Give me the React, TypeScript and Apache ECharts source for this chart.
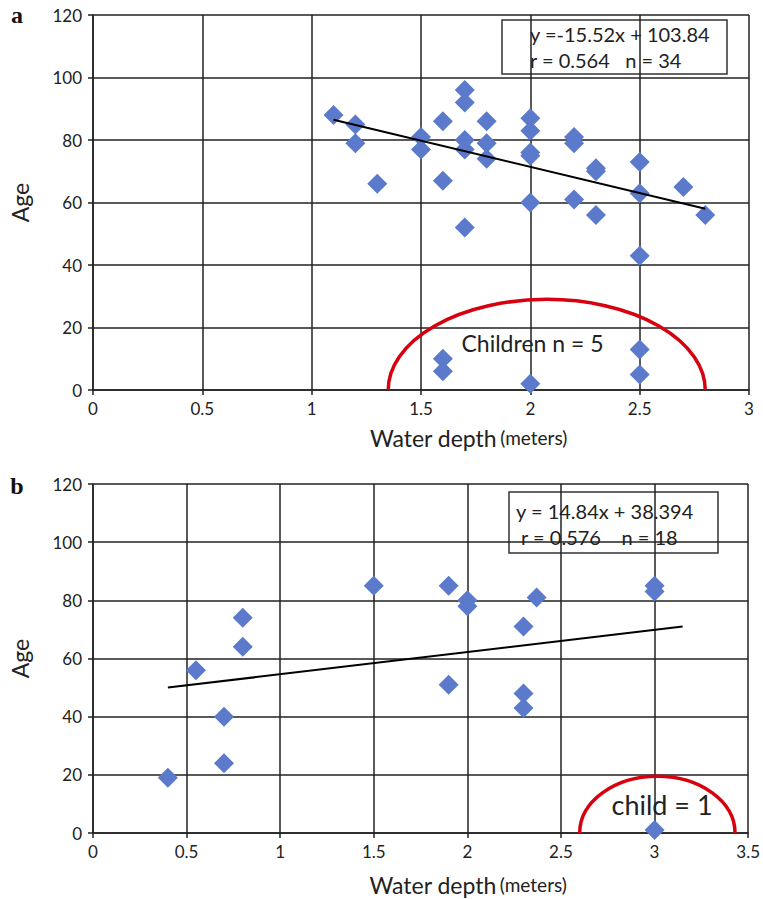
import React, { useEffect, useRef } from "react";
import * as echarts from "echarts";

// Panel a: water depth (m) vs age
const adultsA: [number, number][] = [
  [1.1, 88], [1.2, 85], [1.2, 79], [1.3, 66], [1.5, 81], [1.5, 77],
  [1.6, 86], [1.6, 67], [1.7, 96], [1.7, 92], [1.7, 80], [1.7, 77], [1.7, 52],
  [1.8, 86], [1.8, 79], [1.8, 74], [2.0, 87], [2.0, 83], [2.0, 76], [2.0, 75], [2.0, 60],
  [2.2, 81], [2.2, 79], [2.2, 61], [2.3, 71], [2.3, 70], [2.3, 56],
  [2.5, 73], [2.5, 63], [2.5, 43], [2.7, 65], [2.8, 56],
];
const childrenA: [number, number][] = [
  [1.6, 10], [1.6, 6], [2.0, 2], [2.5, 13], [2.5, 5],
];
const fitA: [number, number][] = [[1.1, 86.5], [2.8, 58]];
const arcA = [1.35, 2.8, 29]; // x start, x end, top age
const noteA = { x: 2.01, y: 15, text: "Children n = 5" };
const eqA = ["y =-15.52x + 103.84", "r = 0.564   n = 34"];

// Panel b
const adultsB: [number, number][] = [
  [0.4, 19], [0.55, 56], [0.7, 40], [0.7, 24], [0.8, 74], [0.8, 64],
  [1.5, 85], [1.9, 85], [1.9, 51], [2.0, 80], [2.0, 78], [2.3, 71], [2.3, 48], [2.3, 43],
  [2.37, 81], [3.0, 85], [3.0, 83],
];
const childB: [number, number][] = [[3.0, 1]];
const fitB: [number, number][] = [[0.4, 50], [3.15, 71]];
const arcB = [2.6, 3.43, 19.5];
const noteB = { x: 3.04, y: 9.7, text: "child = 1" };
const eqB = ["y = 14.84x + 38.394", " r = 0.576    n = 18"];

const yTicks = [0, 20, 40, 60, 80, 100, 120];

const FONT = "Lato, 'Open Sans', sans-serif";
const DIAMOND = "#5b7acb";
const RED = "#d7000f";
const GRID = "#222";

function makeX(gridIndex: number, max: number, gap: number) {
  return {
    type: "value",
    gridIndex,
    min: 0,
    max,
    interval: 0.5,
    name: "{a|Water depth} {b|(meters)}",
    nameLocation: "middle",
    nameGap: gap,
    nameTextStyle: {
      padding: [0, 0, 0, 95],
      rich: {
        a: { fontSize: 23, fontFamily: FONT, color: "#222" },
        b: { fontSize: 19, fontFamily: FONT, color: "#222" },
      },
    },
    axisLine: { show: true, lineStyle: { color: GRID, width: 1.5 } },
    axisTick: { show: true, length: 5, lineStyle: { color: GRID, width: 1.5 } },
    axisLabel: { margin: 10, fontSize: 17, fontFamily: FONT, color: "#222" },
    splitLine: { show: true, lineStyle: { color: GRID, width: 1.5 } },
  };
}

function makeY(gridIndex: number) {
  return {
    type: "value",
    gridIndex,
    min: yTicks[0],
    max: yTicks[yTicks.length - 1],
    interval: 20,
    name: "Age",
    nameLocation: "middle",
    nameGap: 62,
    nameTextStyle: { fontSize: 23, fontFamily: FONT, color: "#222" },
    axisLine: { show: true, lineStyle: { color: GRID, width: 1.5 } },
    axisTick: { show: true, length: 5, lineStyle: { color: GRID, width: 1.5 } },
    axisLabel: { margin: 11, fontSize: 17, fontFamily: FONT, color: "#222" },
    splitLine: { show: true, lineStyle: { color: GRID, width: 1.5 } },
  };
}

function scatter(idx: number, data: [number, number][]) {
  return {
    type: "scatter",
    xAxisIndex: idx,
    yAxisIndex: idx,
    data,
    symbol: "diamond",
    symbolSize: [20, 20],
    itemStyle: { color: DIAMOND, opacity: 1 },
    z: 3,
  };
}

function fitLine(idx: number, data: [number, number][]) {
  return {
    type: "line",
    xAxisIndex: idx,
    yAxisIndex: idx,
    data,
    symbol: "none",
    lineStyle: { color: "#000", width: 2 },
    z: 4,
  };
}

function arcSeries(idx: number, arc: number[]) {
  return {
    type: "custom",
    xAxisIndex: idx,
    yAxisIndex: idx,
    data: [arc],
    z: 5,
    renderItem: (_p: any, api: any) => {
      const x1 = api.value(0);
      const x2 = api.value(1);
      const top = api.value(2);
      const p1 = api.coord([x1, 0]);
      const p2 = api.coord([x2, 0]);
      const pt = api.coord([(x1 + x2) / 2, top]);
      const rx = (p2[0] - p1[0]) / 2;
      const ry = p1[1] - pt[1];
      return {
        type: "path",
        shape: {
          pathData: `M ${p1[0]} ${p1[1]} A ${rx} ${ry} 0 0 1 ${p2[0]} ${p2[1]}`,
        },
        style: { stroke: RED, fill: "none", lineWidth: 3.5 },
      };
    },
  };
}

function noteSeries(idx: number, note: { x: number; y: number; text: string }, size: number) {
  return {
    type: "custom",
    xAxisIndex: idx,
    yAxisIndex: idx,
    data: [[note.x, note.y]],
    z: 6,
    renderItem: (_p: any, api: any) => {
      const p = api.coord([api.value(0), api.value(1)]);
      return {
        type: "text",
        x: p[0],
        y: p[1],
        style: {
          text: note.text,
          fontSize: size,
          fontFamily: FONT,
          fill: "#222",
          align: "center",
          verticalAlign: "middle",
        },
      };
    },
  };
}

function eqBox(x: number, y: number, w: number, h: number, lines: string[], tx: number[], ty: number[]) {
  return {
    type: "group",
    z: 10,
    children: [
      {
        type: "rect",
        shape: { x, y, width: w, height: h },
        style: { fill: "#fff", stroke: "#333", lineWidth: 1.5 },
      },
      ...lines.map((t, i) => ({
        type: "text",
        x: tx[i],
        y: ty[i],
        style: {
          text: t,
          fontSize: 20,
          fontFamily: FONT,
          fill: "#222",
          align: "left",
          verticalAlign: "middle",
        },
      })),
    ],
  };
}

function panelLabel(text: string, y: number) {
  return {
    type: "text",
    x: 17,
    y,
    style: {
      text,
      fontSize: 24,
      fontWeight: "bold",
      fontFamily: "'Liberation Serif', serif",
      fill: "#111",
      align: "center",
      verticalAlign: "middle",
    },
  };
}

export default function App() {
  const ref = useRef<HTMLDivElement>(null);
  useEffect(() => {
    if (!ref.current) return;
    const chart = echarts.init(ref.current, null, { renderer: "svg" });
    chart.setOption({
      animation: false,
      backgroundColor: "#fff",
      grid: [
        { left: 91, top: 15, width: 658, height: 375 },
        { left: 89, top: 484, width: 662, height: 349 },
      ],
      xAxis: [makeX(0, 3, 36), makeX(1, 3.5, 40)],
      yAxis: [makeY(0), makeY(1)],
      series: [
        arcSeries(0, arcA),
        scatter(0, adultsA),
        scatter(0, childrenA),
        fitLine(0, fitA),
        noteSeries(0, noteA, 23),
        arcSeries(1, arcB),
        scatter(1, adultsB),
        scatter(1, childB),
        fitLine(1, fitB),
        noteSeries(1, noteB, 27),
      ],
      graphic: [
        eqBox(502, 20, 225, 54, eqA, [530, 530], [34, 60]),
        eqBox(509, 492, 209, 61, eqB, [516, 516], [511, 537]),
        panelLabel("a", 15),
        panelLabel("b", 486),
      ],
    });
    return () => chart.dispose();
  }, []);
  return (
    <div
      ref={ref}
      style={{ position: "fixed", left: 0, top: 0, width: 763, height: 899, background: "#fff" }}
    />
  );
}
